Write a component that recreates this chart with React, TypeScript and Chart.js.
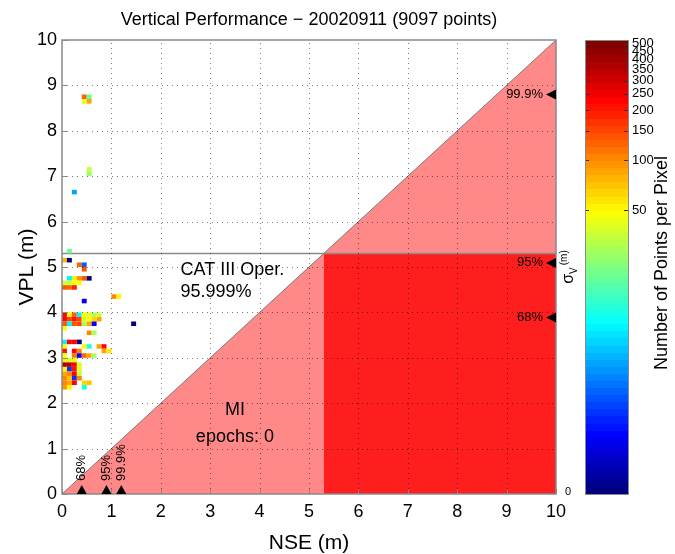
import React, { useEffect, useRef } from "react";
import { Chart, registerables } from "chart.js";

Chart.register(...registerables);

const FONT = "'Liberation Sans', Arial, Helvetica, sans-serif";

const TITLE = "Vertical Performance \u2212 20020911 (9097 points)";
const X_LABEL = "NSE (m)";
const Y_LABEL = "VPL (m)";
const CB_LABEL = "Number of Points per Pixel";
const SIGMA_LABEL = ["\u03c3", "V", "(m)"];
const SIGMA_ZERO = "0";

const xTicks = [0, 1, 2, 3, 4, 5, 6, 7, 8, 9, 10];
const yTicks = [0, 1, 2, 3, 4, 5, 6, 7, 8, 9, 10];
const AXIS_MIN = 0;
const AXIS_MAX = 10;

// alert limit (CAT III) and the 45-degree line
const ALERT_LIMIT = 5.3;
const diagonalX = [0, 10];
const diagonalY = [0, 10];

// region annotations
const regionText = ["CAT III Oper.", "95.999%", "MI", "epochs: 0"];
const regionTextX = [2.4, 2.4, 3.5, 3.5];
const regionTextY = [4.93, 4.45, 1.85, 1.26];
const regionTextAlign: CanvasTextAlign[] = ["left", "left", "center", "center"];

// NSE percentiles (bottom) and sigma percentiles (right)
const bottomMarkerX = [0.4, 0.9, 1.2];
const bottomMarkerLabels = ["68%", "95%", "99.9%"];
const rightMarkerY = [3.89, 5.09, 8.8];
const rightMarkerLabels = ["68%", "95%", "99.9%"];

// 2-D histogram cells (bin lower-left corner, metres) and point counts
const BIN = 0.1;
const cellX = [
  0.4, 0.5, 0.4, 0.5,
  0.5, 0.5,
  0.2,
  0.1,
  0.0, 0.1,
  0.3, 0.4,
  0.4,
  0.1, 0.2, 0.3, 0.4, 0.5,
  0.0, 0.1, 0.2, 0.3,
  0.0, 0.1, 0.2,
  1.0, 1.1,
  0.4,
  0.0, 0.1, 0.2, 0.3, 0.4, 0.5, 0.6, 0.7,
  0.0, 0.1, 0.2, 0.3, 0.4, 0.5, 0.6, 0.7,
  0.0, 0.1, 0.2, 0.3, 0.4, 0.5, 0.6, 1.4,
  0.0,
  0.5, 0.6,
  0.0, 0.1, 0.2, 0.3,
  0.0, 0.4, 0.5, 0.7, 0.8,
  0.0, 0.2, 0.3, 0.8, 0.9,
  0.0, 0.2, 0.3, 0.4, 0.5, 0.6,
  0.0, 0.1, 0.2,
  0.0, 0.1, 0.2, 0.3,
  0.0, 0.1, 0.2, 0.3,
  0.0, 0.1, 0.2, 0.3,
  0.0, 0.1, 0.2, 0.3,
  0.0, 0.1, 0.2, 0.4, 0.5,
  0.0, 0.1, 0.4,
];
const cellY = [
  8.7, 8.7, 8.6, 8.6,
  7.1, 7.0,
  6.6,
  5.3,
  5.1, 5.1,
  5.0, 5.0,
  4.9,
  4.7, 4.7, 4.7, 4.7, 4.7,
  4.6, 4.6, 4.6, 4.6,
  4.5, 4.5, 4.5,
  4.3, 4.3,
  4.2,
  3.9, 3.9, 3.9, 3.9, 3.9, 3.9, 3.9, 3.9,
  3.8, 3.8, 3.8, 3.8, 3.8, 3.8, 3.8, 3.8,
  3.7, 3.7, 3.7, 3.7, 3.7, 3.7, 3.7, 3.7,
  3.6,
  3.5, 3.5,
  3.3, 3.3, 3.3, 3.3,
  3.2, 3.2, 3.2, 3.2, 3.2,
  3.1, 3.1, 3.1, 3.1, 3.1,
  3.0, 3.0, 3.0, 3.0, 3.0, 3.0,
  2.9, 2.9, 2.9,
  2.8, 2.8, 2.8, 2.8,
  2.7, 2.7, 2.7, 2.7,
  2.6, 2.6, 2.6, 2.6,
  2.5, 2.5, 2.5, 2.5,
  2.4, 2.4, 2.4, 2.4, 2.4,
  2.3, 2.3, 2.3,
];
const cellCount = [
  128, 19, 42, 85,
  37, 27,
  6,
  19,
  75, 1,
  128, 4,
  140,
  10, 55, 95, 140, 1,
  37, 37, 50, 50,
  140, 128, 180,
  100, 55,
  2,
  220, 55, 130, 10, 50, 45, 28, 35,
  230, 150, 200, 160, 40, 50, 65, 90,
  140, 10, 140, 160, 30, 90, 2, 1,
  50,
  100, 28,
  10, 220, 220, 1,
  50, 50, 12, 90, 220,
  200, 220, 100, 85, 60,
  50, 110, 2, 130, 85, 28,
  55, 38, 45,
  380, 350, 230, 38,
  55, 3, 200, 40,
  90, 100, 230, 37,
  100, 70, 3, 100,
  100, 85, 220, 65, 70,
  95, 55, 12,
];

// colour bar (log scale of counts)
const CB_MAX_COUNT = 525;
const cbTickValues = [50, 100, 150, 200, 250, 300, 350, 400, 450, 500];
const cbTickLabels = ["50", "100", "150", "200", "250", "300", "350", "400", "450", "500"];
const L_MAX = Math.log10(CB_MAX_COUNT);
const N_COLORS = 64;

const PINK = "rgb(255,136,136)";
const RED = "rgb(255,30,30)";
const LINE_GRAY = "#7a7a7a";
const AXIS_GRAY = "#8a8a8a";

function jet(t: number): string {
  const k = Math.max(0, Math.min(N_COLORS - 1, Math.floor(t * N_COLORS)));
  const v = k / (N_COLORS - 1);
  const c = (a: number) => Math.round(255 * Math.max(0, Math.min(1, a)));
  return `rgb(${c(1.5 - Math.abs(4 * v - 3))},${c(1.5 - Math.abs(4 * v - 2))},${c(1.5 - Math.abs(4 * v - 1))})`;
}
const countFrac = (n: number) => Math.log10(Math.max(1, n)) / L_MAX;

const zeroPad = (s: any) => {
  s.paddingTop = 0;
  s.paddingBottom = 0;
  s.paddingLeft = 0;
  s.paddingRight = 0;
};

const overlayPlugin = {
  id: "overlay",
  afterDatasetsDraw(chart: any) {
    const { ctx, chartArea: a, scales } = chart;
    const xs = scales.x;
    const ys = scales.y;
    const cb = scales.cb;
    ctx.save();

    // histogram cells
    for (let i = 0; i < cellX.length; i++) {
      const x0 = xs.getPixelForValue(cellX[i]);
      const x1 = xs.getPixelForValue(cellX[i] + BIN);
      const y0 = ys.getPixelForValue(cellY[i] + BIN);
      const y1 = ys.getPixelForValue(cellY[i]);
      ctx.fillStyle = jet(countFrac(cellCount[i]));
      ctx.fillRect(x0, y0, x1 - x0, y1 - y0);
    }

    // dotted grid on top
    ctx.strokeStyle = "rgba(0,0,0,0.5)";
    ctx.lineWidth = 1;
    ctx.setLineDash([1, 4]);
    for (const v of xTicks) {
      if (v <= AXIS_MIN || v >= AXIS_MAX) continue;
      const x = Math.round(xs.getPixelForValue(v)) + 0.5;
      ctx.beginPath();
      ctx.moveTo(x, a.bottom);
      ctx.lineTo(x, a.top);
      ctx.stroke();
    }
    for (const v of yTicks) {
      if (v <= AXIS_MIN || v >= AXIS_MAX) continue;
      const y = Math.round(ys.getPixelForValue(v)) + 0.5;
      ctx.beginPath();
      ctx.moveTo(a.left, y);
      ctx.lineTo(a.right, y);
      ctx.stroke();
    }
    ctx.setLineDash([]);

    // frame and inward ticks
    ctx.strokeStyle = AXIS_GRAY;
    ctx.lineWidth = 1.5;
    ctx.strokeRect(a.left, a.top, a.right - a.left, a.bottom - a.top);
    ctx.lineWidth = 1;
    ctx.beginPath();
    for (const v of xTicks) {
      const x = Math.round(xs.getPixelForValue(v)) + 0.5;
      ctx.moveTo(x, a.bottom);
      ctx.lineTo(x, a.bottom - 5);
    }
    for (const v of yTicks) {
      const y = Math.round(ys.getPixelForValue(v)) + 0.5;
      ctx.moveTo(a.left, y);
      ctx.lineTo(a.left + 6, y);
    }
    ctx.stroke();

    // region labels
    ctx.fillStyle = "#000";
    ctx.font = `18px ${FONT}`;
    ctx.textBaseline = "middle";
    for (let i = 0; i < regionText.length; i++) {
      ctx.textAlign = regionTextAlign[i];
      ctx.fillText(regionText[i], xs.getPixelForValue(regionTextX[i]), ys.getPixelForValue(regionTextY[i]));
    }

    // bottom percentile markers
    ctx.font = `13px ${FONT}`;
    for (let i = 0; i < bottomMarkerX.length; i++) {
      const x = xs.getPixelForValue(bottomMarkerX[i]);
      const y = ys.getPixelForValue(AXIS_MIN);
      ctx.beginPath();
      ctx.moveTo(x - 5, y);
      ctx.lineTo(x + 5, y);
      ctx.lineTo(x, y - 9);
      ctx.closePath();
      ctx.fill();
      ctx.save();
      ctx.translate(x, y - 13);
      ctx.rotate(-Math.PI / 2);
      ctx.textAlign = "left";
      ctx.textBaseline = "middle";
      ctx.fillText(bottomMarkerLabels[i], 0, 0);
      ctx.restore();
    }

    // right percentile markers
    for (let i = 0; i < rightMarkerY.length; i++) {
      const y = ys.getPixelForValue(rightMarkerY[i]);
      const x = xs.getPixelForValue(AXIS_MAX);
      ctx.beginPath();
      ctx.moveTo(x, y - 5);
      ctx.lineTo(x, y + 5);
      ctx.lineTo(x - 10, y);
      ctx.closePath();
      ctx.fill();
      ctx.textAlign = "right";
      ctx.textBaseline = "middle";
      ctx.fillText(rightMarkerLabels[i], x - 13, y);
    }

    // sigma axis labels
    ctx.font = `11px ${FONT}`;
    ctx.textAlign = "center";
    ctx.textBaseline = "middle";
    ctx.fillText(SIGMA_ZERO, a.right + 12, a.bottom - 2);
    ctx.save();
    ctx.translate(a.right + 13, (a.top + a.bottom) / 2);
    ctx.rotate(-Math.PI / 2);
    ctx.font = `16px ${FONT}`;
    const w0 = ctx.measureText(SIGMA_LABEL[0]).width;
    ctx.font = `10px ${FONT}`;
    const w1 = ctx.measureText(SIGMA_LABEL[1]).width;
    const w2 = ctx.measureText(SIGMA_LABEL[2]).width;
    let cx = -(w0 + w1 + 2 + w2) / 2;
    ctx.textAlign = "left";
    ctx.textBaseline = "alphabetic";
    ctx.font = `16px ${FONT}`;
    ctx.fillText(SIGMA_LABEL[0], cx, 4);
    cx += w0;
    ctx.font = `10px ${FONT}`;
    ctx.fillText(SIGMA_LABEL[1], cx, 8);
    cx += w1 + 2;
    ctx.fillText(SIGMA_LABEL[2], cx, -2);
    ctx.restore();

    // colour bar
    const cbL = a.right + 29;
    const cbR = a.right + 72;
    for (let k = 0; k < N_COLORS; k++) {
      const yTop = cb.getPixelForValue(((k + 1) / N_COLORS) * L_MAX);
      const yBot = cb.getPixelForValue((k / N_COLORS) * L_MAX);
      ctx.fillStyle = jet((k + 0.5) / N_COLORS);
      ctx.fillRect(cbL, Math.floor(yTop), cbR - cbL, Math.ceil(yBot) - Math.floor(yTop));
    }
    ctx.strokeStyle = "#333";
    ctx.lineWidth = 1;
    ctx.beginPath();
    for (const v of cbTickValues) {
      const y = Math.round(cb.getPixelForValue(Math.log10(v))) + 0.5;
      ctx.moveTo(cbL, y);
      ctx.lineTo(cbL + 4, y);
      ctx.moveTo(cbR, y);
      ctx.lineTo(cbR - 4, y);
    }
    ctx.stroke();
    ctx.strokeStyle = AXIS_GRAY;
    ctx.strokeRect(cbL + 0.5, a.top + 0.5, cbR - cbL, a.bottom - a.top);

    // colour bar label
    ctx.save();
    ctx.translate(a.right + 106, (a.top + a.bottom) / 2 - 4);
    ctx.rotate(-Math.PI / 2);
    ctx.fillStyle = "#000";
    ctx.font = `18px ${FONT}`;
    ctx.textAlign = "center";
    ctx.textBaseline = "middle";
    ctx.fillText(CB_LABEL, 0, 0);
    ctx.restore();

    ctx.restore();
  },
};

export default function App() {
  const ref = useRef<HTMLCanvasElement>(null);
  useEffect(() => {
    const diag = diagonalX.map((x, i) => ({ x, y: diagonalY[i] }));
    const chart = new Chart(ref.current as HTMLCanvasElement, {
      type: "scatter",
      data: {
        datasets: [
          {
            type: "line",
            label: "CAT III alert limit",
            data: [
              { x: AXIS_MIN, y: ALERT_LIMIT },
              { x: AXIS_MAX, y: ALERT_LIMIT },
            ],
            borderColor: AXIS_GRAY,
            borderWidth: 1.5,
            pointRadius: 0,
            fill: false,
            order: 1,
          },
          {
            type: "line",
            label: "VPL = NSE",
            data: diag,
            borderColor: LINE_GRAY,
            borderWidth: 1,
            pointRadius: 0,
            fill: false,
            order: 2,
          },
          {
            type: "line",
            label: "Unavailable",
            data: [
              { x: ALERT_LIMIT, y: ALERT_LIMIT },
              { x: AXIS_MAX, y: ALERT_LIMIT },
            ],
            borderWidth: 0,
            backgroundColor: RED,
            pointRadius: 0,
            fill: "origin",
            order: 3,
          },
          {
            type: "line",
            label: "MI",
            data: diag,
            borderWidth: 0,
            backgroundColor: PINK,
            pointRadius: 0,
            fill: "origin",
            order: 4,
          },
        ],
      } as any,
      options: {
        animation: false,
        responsive: false,
        events: [],
        layout: { padding: 0 },
        plugins: {
          legend: { display: false },
          tooltip: { enabled: false },
          title: {
            display: true,
            text: TITLE,
            fullSize: false,
            color: "#000",
            font: { family: FONT, size: 18, weight: "normal", lineHeight: 1.2 },
            padding: { top: 9, bottom: 9.4 },
          },
        },
        scales: {
          x: {
            type: "linear",
            position: "bottom",
            min: AXIS_MIN,
            max: AXIS_MAX,
            afterBuildTicks: (s: any) => {
              s.ticks = xTicks.map((v) => ({ value: v }));
            },
            ticks: {
              color: "#000",
              font: { family: FONT, size: 18 },
              padding: 7,
              maxRotation: 0,
              autoSkip: false,
            },
            grid: { display: false, drawTicks: false },
            border: { display: false },
            title: {
              display: true,
              text: X_LABEL,
              color: "#000",
              font: { family: FONT, size: 21, lineHeight: 1 },
              padding: { top: 0, bottom: 0 },
            },
            afterFit: (s: any) => {
              s.height = 60;
              zeroPad(s);
            },
          },
          y: {
            type: "linear",
            position: "left",
            min: AXIS_MIN,
            max: AXIS_MAX,
            afterBuildTicks: (s: any) => {
              s.ticks = yTicks.map((v) => ({ value: v }));
            },
            ticks: {
              color: "#000",
              font: { family: FONT, size: 18 },
              padding: 5,
              autoSkip: false,
            },
            grid: { display: false, drawTicks: false },
            border: { display: false },
            title: {
              display: true,
              text: Y_LABEL,
              color: "#000",
              font: { family: FONT, size: 21, lineHeight: 1 },
              padding: { top: 17, bottom: 0 },
            },
            afterFit: (s: any) => {
              s.width = 62;
              zeroPad(s);
            },
          },
          cb: {
            type: "linear",
            position: "right",
            min: 0,
            max: L_MAX,
            afterBuildTicks: (s: any) => {
              s.ticks = cbTickValues.map((v) => ({ value: Math.log10(v) }));
            },
            ticks: {
              color: "#000",
              font: { family: FONT, size: 13 },
              padding: 76,
              autoSkip: false,
              callback: (_v: any, i: number) => cbTickLabels[i],
            },
            grid: { display: false, drawTicks: false },
            border: { display: false },
            afterFit: (s: any) => {
              s.width = 119;
              zeroPad(s);
            },
          },
        },
      } as any,
      plugins: [overlayPlugin],
    });
    return () => chart.destroy();
  }, []);
  return (
    <div style={{ position: "fixed", left: 0, top: 0, width: 675, height: 554, background: "#fff" }}>
      <canvas ref={ref} width={675} height={554} style={{ width: 675, height: 554, display: "block" }} />
    </div>
  );
}
